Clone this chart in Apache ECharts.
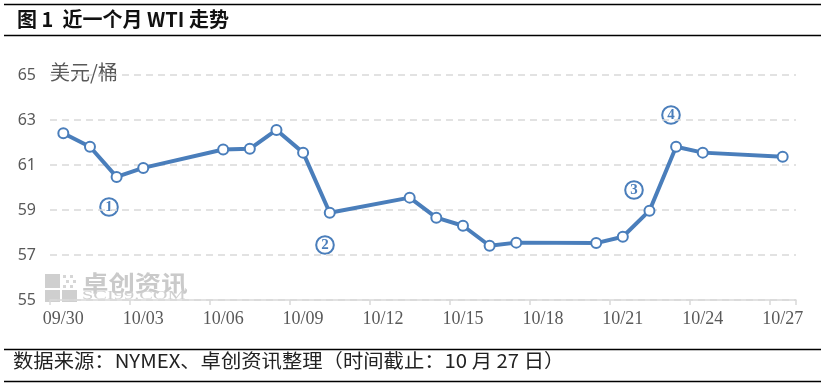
<!DOCTYPE html>
<html><head><meta charset="utf-8">
<script src="https://cdn.jsdelivr.net/npm/echarts@6/dist/echarts.min.js"></script>
<style>html,body{margin:0;padding:0;background:#fff}#c{width:825px;height:387px}</style>
</head><body><div id="c"></div>
<script>
// ---- data ----
const categories = ['09/30','10/01','10/02','10/03','10/04','10/05','10/06','10/07','10/08','10/09',
  '10/10','10/11','10/12','10/13','10/14','10/15','10/16','10/17','10/18','10/19',
  '10/20','10/21','10/22','10/23','10/24','10/25','10/26','10/27'];
const wtiValues = [62.41, 61.81, 60.47, 60.87, null, null, 61.69, 61.72, 62.56, 61.55,
  58.88, null, null, 59.55, 58.66, 58.30, 57.41, 57.55, null, null,
  57.53, 57.81, 58.97, 61.81, 61.55, null, null, 61.37];
const yMin = 55, yMax = 65, yStep = 2;
const titleText = '图 1  近一个月 WTI 走势';
const unitText = '美元/桶';
const sourceText = '数据来源：NYMEX、卓创资讯整理（时间截止：10 月 27 日）';
const noteDigits = ['1','2','3','4'];

const blue = '#4a7ebb';

function circledNote(cx, cy, digit) {
  return {type: 'group', x: cx, y: cy, z: 10, children: [
    {type: 'circle', shape: {cx: 0, cy: 0, r: 8.8}, style: {fill: 'none', stroke: blue, lineWidth: 2}},
    {type: 'text', x: 0, y: 0.5, style: {text: digit, fill: blue, font: 'bold 15px "Liberation Serif"', align: 'center', verticalAlign: 'middle'}}
  ]};
}

const chart = echarts.init(document.getElementById('c'), null, {renderer:'canvas'});
chart.setOption({
  animation: false,
  backgroundColor: '#fff',
  grid: {left: 50, right: 29, top: 75, bottom: 87, containLabel: false},
  xAxis: {
    type: 'category', data: categories, boundaryGap: true,
    axisLine: {show: true, lineStyle: {color: '#d9d9d9', width: 1.5}},
    axisTick: {show: true, interval: 2, length: 5, lineStyle: {color: '#d9d9d9', width: 1.5}},
    axisLabel: {interval: 2, color: '#595959', fontSize: 18, fontFamily: 'Liberation Serif', margin: 10},
    splitLine: {show: false}
  },
  yAxis: {
    type: 'value', min: yMin, max: yMax, interval: yStep,
    axisLine: {show: false}, axisTick: {show: false},
    axisLabel: {color: '#595959', fontSize: 16, fontFamily: 'Noto Sans', margin: 14},
    splitLine: {show: true, lineStyle: {color: '#d9d9d9', width: 1.5, type: [7, 5]}}
  },
  series: [{
    type: 'line', data: wtiValues, connectNulls: true,
    symbol: 'circle', symbolSize: 10, showAllSymbol: true,
    lineStyle: {color: blue, width: 4},
    itemStyle: {color: '#fff', borderColor: blue, borderWidth: 2},
    z: 3
  }],
  graphic: [
    {type: 'line', shape: {x1: 4, y1: 4.5, x2: 821, y2: 4.5}, style: {stroke: '#000', lineWidth: 1.5}},
    {type: 'line', shape: {x1: 4, y1: 35.5, x2: 821, y2: 35.5}, style: {stroke: '#000', lineWidth: 1.5}},
    {type: 'text', left: 17, top: 9, style: {text: titleText, fill: '#111', font: 'bold 20px "Noto Sans CJK SC"'}},
    {type: 'line', shape: {x1: 4, y1: 349.5, x2: 821, y2: 349.5}, style: {stroke: '#000', lineWidth: 1.5}},
    {type: 'line', shape: {x1: 4, y1: 381.5, x2: 821, y2: 381.5}, style: {stroke: '#000', lineWidth: 1.5}},
    {type: 'text', x: 13, y: 351, scaleX: 1.07, style: {text: sourceText, fill: '#222', font: '19px "Noto Sans CJK SC"'}},
    {type: 'text', left: 50, top: 62, style: {text: unitText, fill: '#595959', font: '20px "Noto Sans CJK SC"'}},
    // watermark
    {type: 'group', z: 0, children: [
      {type: 'rect', shape: {x: 45, y: 274, width: 15, height: 14}, style: {fill: '#cfcfcf'}},
      {type: 'rect', shape: {x: 45, y: 290, width: 15, height: 12}, style: {fill: '#cfcfcf'}},
      {type: 'rect', shape: {x: 62, y: 290, width: 15, height: 12}, style: {fill: '#cfcfcf'}},
      {type: 'rect', shape: {x: 63, y: 275, width: 3, height: 3}, style: {fill: '#d6d6d6'}},
      {type: 'rect', shape: {x: 70, y: 275, width: 3, height: 3}, style: {fill: '#d6d6d6'}},
      {type: 'rect', shape: {x: 66, y: 280, width: 3, height: 3}, style: {fill: '#d6d6d6'}},
      {type: 'rect', shape: {x: 73, y: 280, width: 3, height: 3}, style: {fill: '#d6d6d6'}},
      {type: 'rect', shape: {x: 63, y: 285, width: 3, height: 3}, style: {fill: '#d6d6d6'}},
      {type: 'rect', shape: {x: 70, y: 285, width: 3, height: 3}, style: {fill: '#d6d6d6'}},
      {type: 'text', x: 82, y: 272, scaleX: 1.2, style: {text: '卓创资讯', fill: '#cacaca', font: 'bold 22px "Noto Sans CJK SC"'}},
      {type: 'text', x: 82, y: 290, scaleX: 1.7, style: {text: 'SCI99.COM', fill: '#d0d0d0', font: '12px "Liberation Serif"'}}
    ]},
    // annotations
    circledNote(109, 207, noteDigits[0]),
    circledNote(325, 245, noteDigits[1]),
    circledNote(634, 190, noteDigits[2]),
    circledNote(671, 115, noteDigits[3])
  ]
});
</script></body></html>
